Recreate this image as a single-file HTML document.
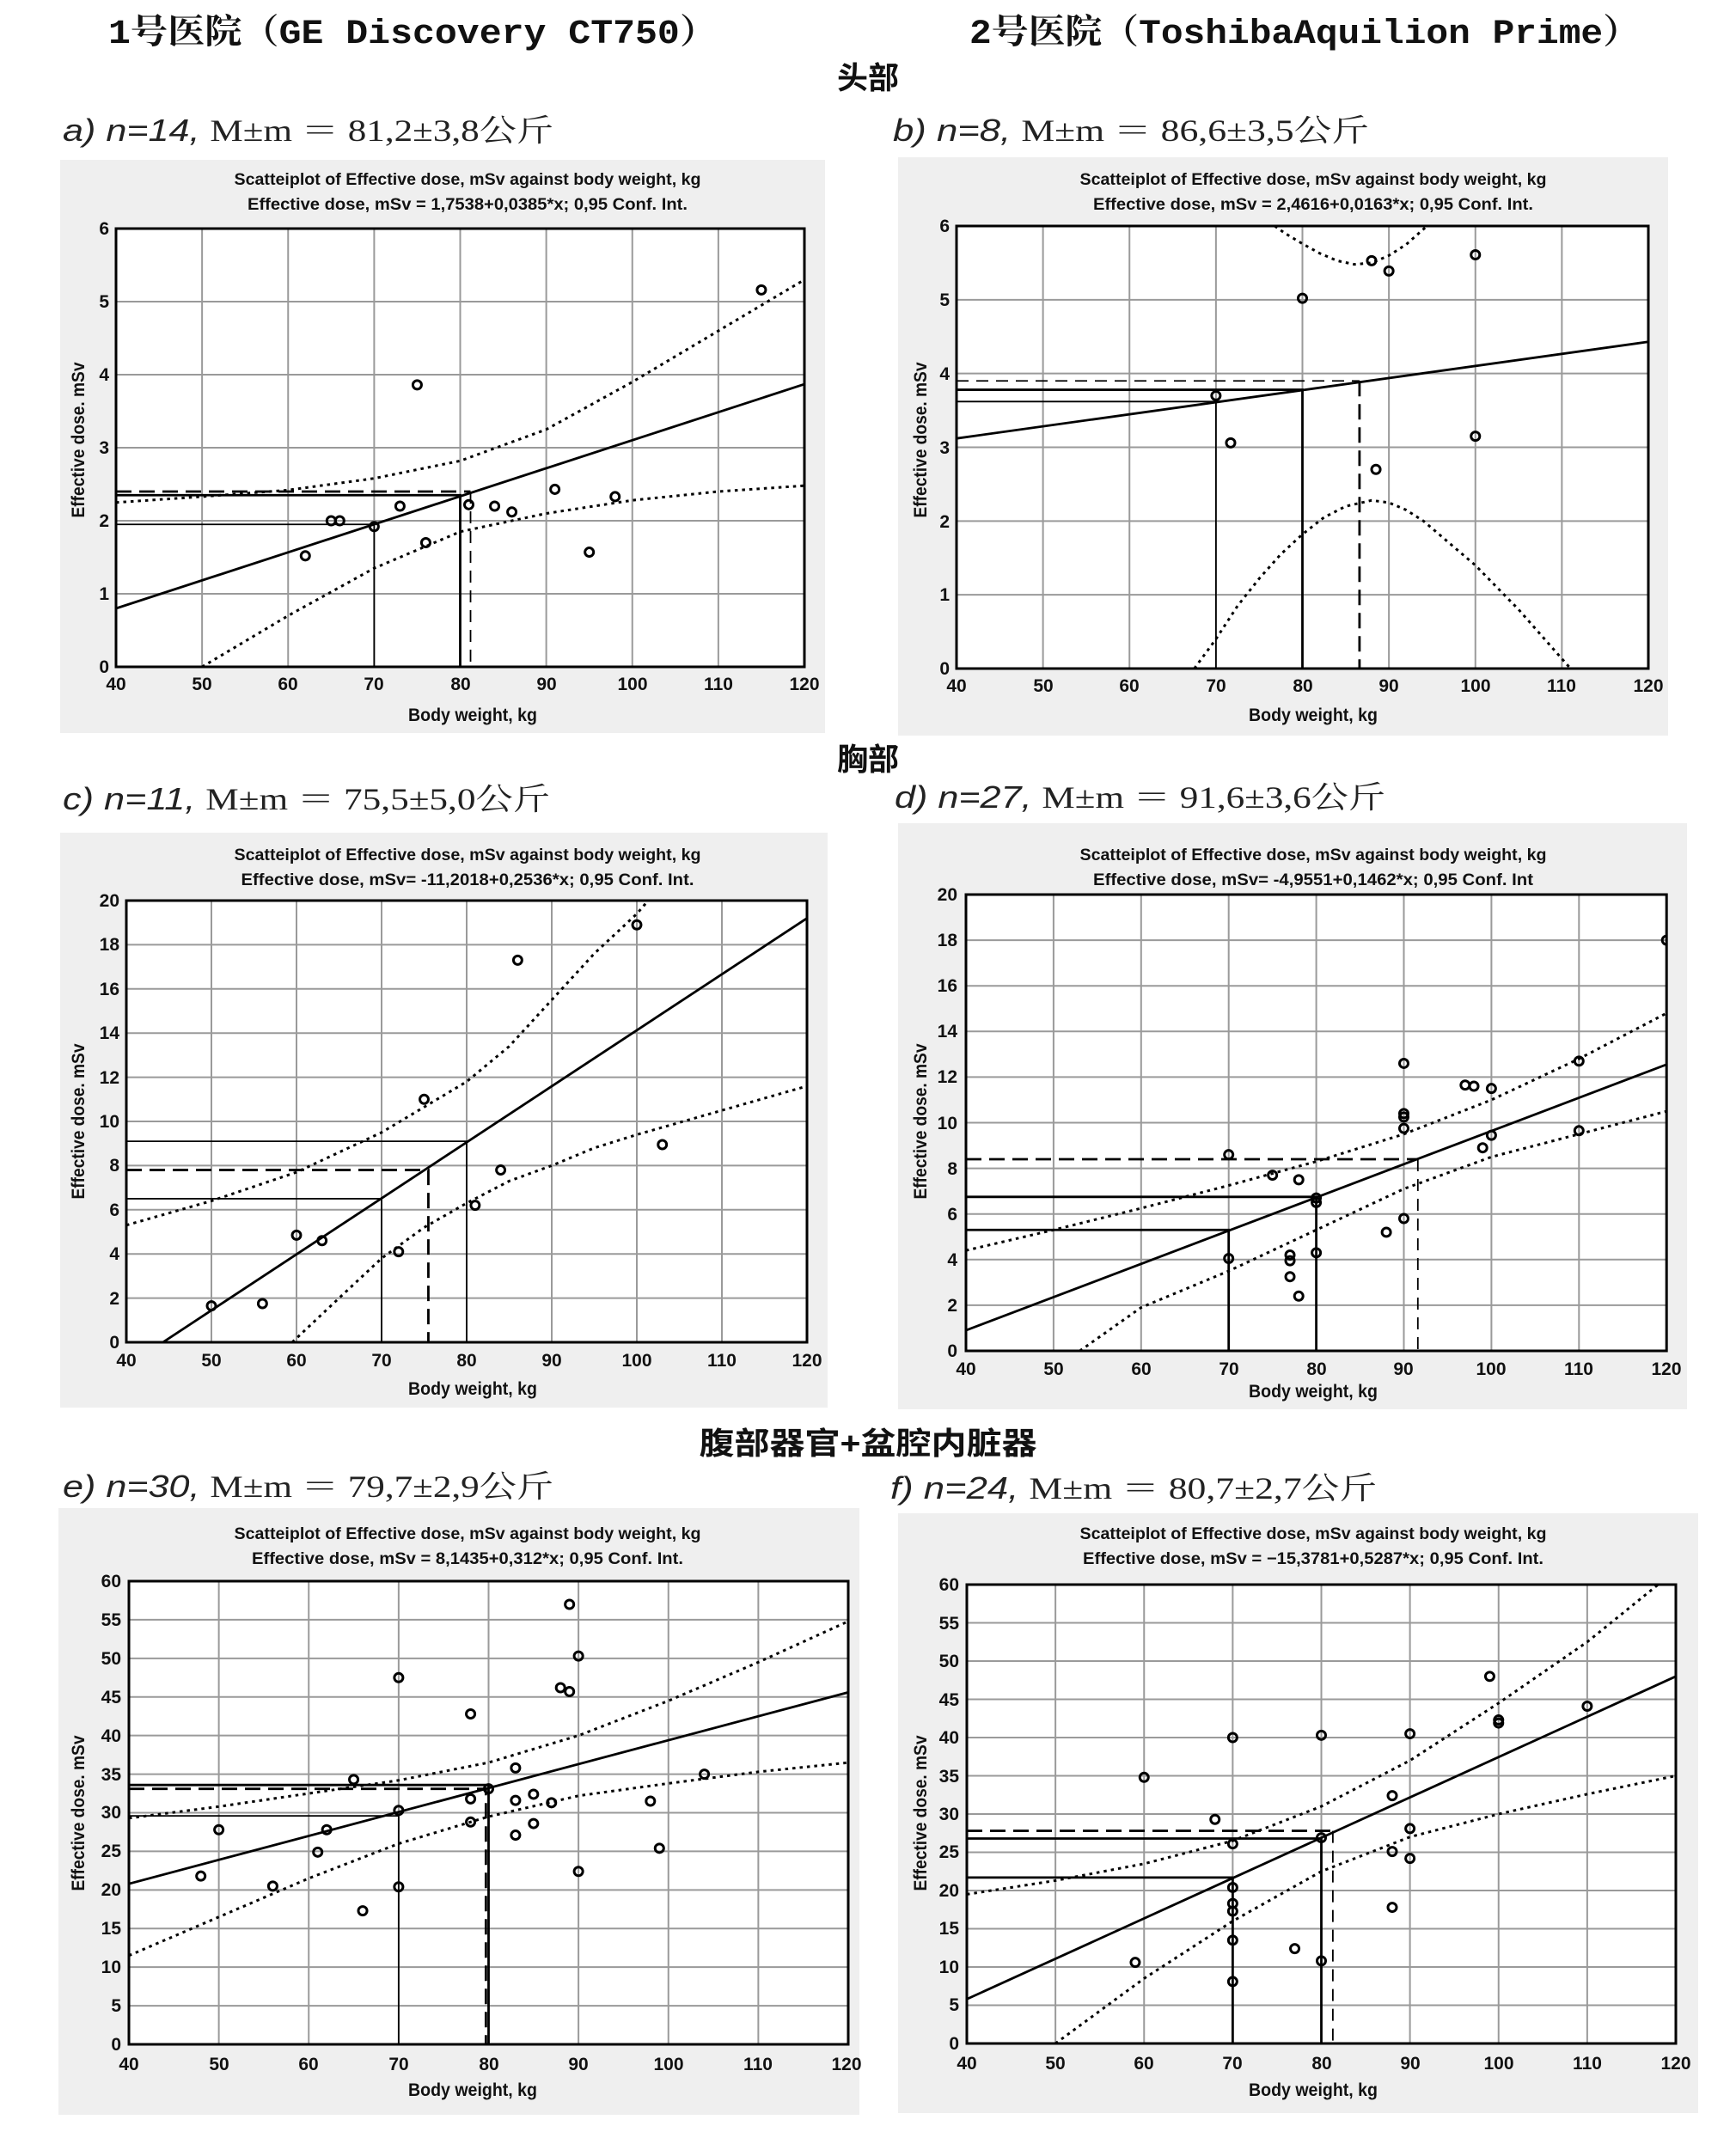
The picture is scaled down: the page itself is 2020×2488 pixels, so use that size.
<!DOCTYPE html>
<html><head><meta charset="utf-8"><style>
html,body{margin:0;padding:0;background:#fff}
svg{display:block}
.p *{vector-effect:non-scaling-stroke;fill:none}
.grid{stroke:#9a9a9a;stroke-width:2}
.frame{stroke:#000;stroke-width:3}
.reg{stroke:#000;stroke-width:2.8}
.band{stroke:#000;stroke-width:3;stroke-dasharray:3.5 5}
.ref{stroke:#000;stroke-width:1.8}
.refb{stroke:#000;stroke-width:2.8}
.dash{stroke:#000;stroke-width:2.8;stroke-dasharray:18 9}
.dasht{stroke:#000;stroke-width:1.8;stroke-dasharray:14 9}
.pt{stroke:#000;stroke-width:3}
.t{font-family:"Liberation Sans",sans-serif;font-weight:bold;fill:#111}
.tt{font-family:"Liberation Sans",sans-serif;font-weight:bold;font-size:19px;fill:#111}
.ax{font-family:"Liberation Sans",sans-serif;font-weight:bold;font-size:21px;fill:#111}
.hd{font-family:"Liberation Mono","Noto Serif CJK SC",monospace;font-weight:bold;font-size:40px;fill:#111}
.sec{font-family:"Liberation Sans","Noto Sans CJK SC",sans-serif;font-weight:bold;font-size:36px;fill:#111}
.lb{font-family:"Liberation Serif","Noto Serif CJK SC",serif;font-size:36px;fill:#222}
.lbi{font-family:"Liberation Sans",sans-serif;font-style:italic}
</style></head><body>
<svg width="2020" height="2488" viewBox="0 0 2020 2488" xmlns="http://www.w3.org/2000/svg">
<defs>
<clipPath id="ca"><rect x="40" y="0" width="80" height="6"/></clipPath>
<clipPath id="cc"><rect x="40" y="0" width="80" height="20"/></clipPath>
<clipPath id="ce"><rect x="40" y="0" width="80" height="60"/></clipPath>
</defs>

<text class="hd" x="126" y="50" textLength="708" lengthAdjust="spacingAndGlyphs">1号医院（GE Discovery CT750）</text>
<text class="hd" x="1128" y="50" textLength="780" lengthAdjust="spacingAndGlyphs">2号医院（ToshibaAquilion Prime）</text>
<text class="sec" x="1010" y="103" text-anchor="middle">头部</text>
<text class="sec" x="1010" y="896" text-anchor="middle">胸部</text>
<text class="sec" x="1010" y="1692" text-anchor="middle" textLength="393" lengthAdjust="spacingAndGlyphs">腹部器官+盆腔内脏器</text>

<text class="lb" x="73" y="164" textLength="571" lengthAdjust="spacingAndGlyphs"><tspan class="lbi">a) n=14, </tspan>Μ±m ＝ 81,2±3,8公斤</text>
<text class="lb" x="1039" y="164" textLength="554" lengthAdjust="spacingAndGlyphs"><tspan class="lbi">b) n=8, </tspan>Μ±m ＝ 86,6±3,5公斤</text>
<text class="lb" x="73" y="942" textLength="567" lengthAdjust="spacingAndGlyphs"><tspan class="lbi">c) n=11, </tspan>Μ±m ＝ 75,5±5,0公斤</text>
<text class="lb" x="1041" y="940" textLength="571" lengthAdjust="spacingAndGlyphs"><tspan class="lbi">d) n=27, </tspan>Μ±m ＝ 91,6±3,6公斤</text>
<text class="lb" x="73" y="1742" textLength="571" lengthAdjust="spacingAndGlyphs"><tspan class="lbi">e) n=30, </tspan>Μ±m ＝ 79,7±2,9公斤</text>
<text class="lb" x="1036" y="1744" textLength="566" lengthAdjust="spacingAndGlyphs"><tspan class="lbi">f) n=24, </tspan>Μ±m ＝ 80,7±2,7公斤</text>

<rect x="70" y="186" width="890" height="667" fill="#efefef"/>
<rect x="1045" y="183" width="896" height="673" fill="#efefef"/>
<rect x="70" y="969" width="893" height="669" fill="#efefef"/>
<rect x="1045" y="958" width="918" height="682" fill="#efefef"/>
<rect x="68" y="1755" width="932" height="706" fill="#efefef"/>
<rect x="1045" y="1761" width="931" height="698" fill="#efefef"/>

<!-- a -->
<rect x="135" y="266" width="801" height="510" fill="#fff"/>
<g class="p" transform="translate(135,776) scale(10.0125,-85) translate(-40,0)">
<path class="grid" d="M50 0V6M60 0V6M70 0V6M80 0V6M90 0V6M100 0V6M110 0V6M40 1H120M40 2H120M40 3H120M40 4H120M40 5H120"/>
<g clip-path="url(#ca)">
<path class="reg" d="M40 0.8L120 3.87"/>
<path class="band" d="M40 2.25L50 2.33L60 2.42L70 2.58L80 2.82L90 3.25L100 3.9L110 4.6L120 5.3"/>
<path class="band" d="M50 0L60 0.7L70 1.35L80 1.85L90 2.1L100 2.28L110 2.4L120 2.48"/>
<path class="ref" d="M40 1.95H70V0"/>
<path class="refb" d="M40 2.35H80V0"/>
<path class="dash" d="M40 2.4H81.2"/>
<path class="dasht" d="M81.2 2.4V0"/>
<g class="pt"><ellipse cx="62" cy="1.52" rx=".5" ry=".059"/><ellipse cx="65" cy="2" rx=".5" ry=".059"/><ellipse cx="66" cy="2" rx=".5" ry=".059"/><ellipse cx="70" cy="1.92" rx=".5" ry=".059"/><ellipse cx="73" cy="2.2" rx=".5" ry=".059"/><ellipse cx="75" cy="3.86" rx=".5" ry=".059"/><ellipse cx="76" cy="1.7" rx=".5" ry=".059"/><ellipse cx="81" cy="2.22" rx=".5" ry=".059"/><ellipse cx="84" cy="2.2" rx=".5" ry=".059"/><ellipse cx="86" cy="2.12" rx=".5" ry=".059"/><ellipse cx="91" cy="2.43" rx=".5" ry=".059"/><ellipse cx="95" cy="1.57" rx=".5" ry=".059"/><ellipse cx="98" cy="2.33" rx=".5" ry=".059"/><ellipse cx="115" cy="5.16" rx=".5" ry=".059"/></g>
</g>
<rect class="frame" x="40" y="0" width="80" height="6"/>
</g>
<g class="t" font-size="21" text-anchor="end"><text x="127" y="783">0</text><text x="127" y="698">1</text><text x="127" y="613">2</text><text x="127" y="528">3</text><text x="127" y="443">4</text><text x="127" y="358">5</text><text x="127" y="273">6</text></g>
<g class="t" font-size="21" text-anchor="middle"><text x="135" y="803">40</text><text x="235" y="803">50</text><text x="335" y="803">60</text><text x="435" y="803">70</text><text x="536" y="803">80</text><text x="636" y="803">90</text><text x="736" y="803">100</text><text x="836" y="803">110</text><text x="936" y="803">120</text></g>
<text class="tt" x="544" y="215" text-anchor="middle" textLength="543" lengthAdjust="spacingAndGlyphs">Scatteiplot of Effective dose, mSv against body weight, kg</text>
<text class="tt" x="544" y="244" text-anchor="middle" textLength="512" lengthAdjust="spacingAndGlyphs">Effective dose, mSv = 1,7538+0,0385*x; 0,95 Conf. Int.</text>
<text class="ax" x="550" y="839" text-anchor="middle" textLength="150" lengthAdjust="spacingAndGlyphs">Body weight, kg</text>
<text class="ax" transform="translate(98,512) rotate(-90)" text-anchor="middle" textLength="181" lengthAdjust="spacingAndGlyphs">Effective dose. mSv</text>

<!-- b -->
<rect x="1113" y="263" width="805" height="515" fill="#fff"/>
<g class="p" transform="translate(1113,778) scale(10.0625,-85.83) translate(-40,0)">
<path class="grid" d="M50 0V6M60 0V6M70 0V6M80 0V6M90 0V6M100 0V6M110 0V6M40 1H120M40 2H120M40 3H120M40 4H120M40 5H120"/>
<g clip-path="url(#ca)">
<path class="reg" d="M40 3.12L120 4.43"/>
<path class="band" d="M76.8 6L78 5.9L80 5.76L82 5.63L84 5.53L86 5.48L88 5.5L90 5.6L92 5.75L94.4 6"/>
<path class="band" d="M67.5 0L70 0.4L72.5 0.85L75 1.22L77.5 1.55L80 1.82L82.5 2.05L85 2.2L88 2.28L90 2.25L92 2.15L94 2.0L96 1.8L98 1.6L100 1.4L102.5 1.1L105 0.8L108 0.4L111 0"/>
<path class="ref" d="M40 3.62H70V0"/>
<path class="refb" d="M40 3.78H80V0"/>
<path class="dasht" d="M40 3.9H86.6"/>
<path class="dash" d="M86.6 3.9V0"/>
<g class="pt"><ellipse cx="70" cy="3.7" rx=".5" ry=".058"/><ellipse cx="71.7" cy="3.06" rx=".5" ry=".058"/><ellipse cx="80" cy="5.02" rx=".5" ry=".058"/><ellipse cx="88" cy="5.53" rx=".5" ry=".058"/><ellipse cx="90" cy="5.39" rx=".5" ry=".058"/><ellipse cx="100" cy="5.61" rx=".5" ry=".058"/><ellipse cx="88.5" cy="2.7" rx=".5" ry=".058"/><ellipse cx="100" cy="3.15" rx=".5" ry=".058"/></g>
</g>
<rect class="frame" x="40" y="0" width="80" height="6"/>
</g>
<g class="t" font-size="21" text-anchor="end"><text x="1105" y="785">0</text><text x="1105" y="699">1</text><text x="1105" y="614">2</text><text x="1105" y="528">3</text><text x="1105" y="442">4</text><text x="1105" y="356">5</text><text x="1105" y="270">6</text></g>
<g class="t" font-size="21" text-anchor="middle"><text x="1113" y="805">40</text><text x="1214" y="805">50</text><text x="1314" y="805">60</text><text x="1415" y="805">70</text><text x="1516" y="805">80</text><text x="1616" y="805">90</text><text x="1717" y="805">100</text><text x="1817" y="805">110</text><text x="1918" y="805">120</text></g>
<text class="tt" x="1528" y="215" text-anchor="middle" textLength="543" lengthAdjust="spacingAndGlyphs">Scatteiplot of Effective dose, mSv against body weight, kg</text>
<text class="tt" x="1528" y="244" text-anchor="middle" textLength="512" lengthAdjust="spacingAndGlyphs">Effective dose, mSv = 2,4616+0,0163*x; 0,95 Conf. Int.</text>
<text class="ax" x="1528" y="839" text-anchor="middle" textLength="150" lengthAdjust="spacingAndGlyphs">Body weight, kg</text>
<text class="ax" transform="translate(1078,512) rotate(-90)" text-anchor="middle" textLength="181" lengthAdjust="spacingAndGlyphs">Effective dose. mSv</text>

<!-- c -->
<rect x="147" y="1048" width="792" height="514" fill="#fff"/>
<g class="p" transform="translate(147,1562) scale(9.9,-25.7) translate(-40,0)">
<path class="grid" d="M50 0V20M60 0V20M70 0V20M80 0V20M90 0V20M100 0V20M110 0V20M40 2H120M40 4H120M40 6H120M40 8H120M40 10H120M40 12H120M40 14H120M40 16H120M40 18H120"/>
<g clip-path="url(#cc)">
<path class="reg" d="M44.3 0L120 19.2"/>
<path class="band" d="M40 5.3L50 6.4L60 7.7L70 9.5L80 11.8L85 13.4L90 15.5L95 17.6L100 19.4L102 20.3"/>
<path class="band" d="M59.5 0L65 2L70 3.8L75 5.2L80 6.3L85 7.3L90 8.0L95 8.8L100 9.4L110 10.5L120 11.6"/>
<path class="ref" d="M40 6.5H70V0"/>
<path class="ref" d="M40 9.1H80V0"/>
<path class="dash" d="M40 7.8H75.5V0"/>
<g class="pt"><ellipse cx="50" cy="1.65" rx=".5" ry=".195"/><ellipse cx="56" cy="1.75" rx=".5" ry=".195"/><ellipse cx="60" cy="4.85" rx=".5" ry=".195"/><ellipse cx="63" cy="4.6" rx=".5" ry=".195"/><ellipse cx="72" cy="4.1" rx=".5" ry=".195"/><ellipse cx="75" cy="11" rx=".5" ry=".195"/><ellipse cx="81" cy="6.2" rx=".5" ry=".195"/><ellipse cx="84" cy="7.8" rx=".5" ry=".195"/><ellipse cx="86" cy="17.3" rx=".5" ry=".195"/><ellipse cx="100" cy="18.9" rx=".5" ry=".195"/><ellipse cx="103" cy="8.95" rx=".5" ry=".195"/></g>
</g>
<rect class="frame" x="40" y="0" width="80" height="20"/>
</g>
<g class="t" font-size="21" text-anchor="end"><text x="139" y="1569">0</text><text x="139" y="1518">2</text><text x="139" y="1466">4</text><text x="139" y="1415">6</text><text x="139" y="1363">8</text><text x="139" y="1312">10</text><text x="139" y="1261">12</text><text x="139" y="1209">14</text><text x="139" y="1158">16</text><text x="139" y="1106">18</text><text x="139" y="1055">20</text></g>
<g class="t" font-size="21" text-anchor="middle"><text x="147" y="1590">40</text><text x="246" y="1590">50</text><text x="345" y="1590">60</text><text x="444" y="1590">70</text><text x="543" y="1590">80</text><text x="642" y="1590">90</text><text x="741" y="1590">100</text><text x="840" y="1590">110</text><text x="939" y="1590">120</text></g>
<text class="tt" x="544" y="1001" text-anchor="middle" textLength="543" lengthAdjust="spacingAndGlyphs">Scatteiplot of Effective dose, mSv against body weight, kg</text>
<text class="tt" x="544" y="1030" text-anchor="middle" textLength="527" lengthAdjust="spacingAndGlyphs">Effective dose, mSv= -11,2018+0,2536*x; 0,95 Conf. Int.</text>
<text class="ax" x="550" y="1623" text-anchor="middle" textLength="150" lengthAdjust="spacingAndGlyphs">Body weight, kg</text>
<text class="ax" transform="translate(98,1305) rotate(-90)" text-anchor="middle" textLength="181" lengthAdjust="spacingAndGlyphs">Effective dose. mSv</text>

<!-- d -->
<rect x="1124" y="1041" width="815" height="531" fill="#fff"/>
<g class="p" transform="translate(1124,1572) scale(10.19,-26.55) translate(-40,0)">
<path class="grid" d="M50 0V20M60 0V20M70 0V20M80 0V20M90 0V20M100 0V20M110 0V20M40 2H120M40 4H120M40 6H120M40 8H120M40 10H120M40 12H120M40 14H120M40 16H120M40 18H120"/>
<g clip-path="url(#cc)">
<path class="reg" d="M40 0.9L120 12.55"/>
<path class="band" d="M40 4.4L50 5.3L60 6.25L70 7.25L80 8.3L90 9.5L100 11.0L110 12.8L120 14.8"/>
<path class="band" d="M53 0L60 1.9L70 3.5L80 5.3L90 7.1L100 8.5L110 9.5L120 10.5"/>
<path class="refb" d="M40 5.3H70V0"/>
<path class="refb" d="M40 6.75H80V0"/>
<path class="dash" d="M40 8.4H91.6"/>
<path class="dasht" d="M91.6 8.4V0"/>
<g class="pt"><ellipse cx="70" cy="8.6" rx=".49" ry=".188"/><ellipse cx="70" cy="4.05" rx=".49" ry=".188"/><ellipse cx="75" cy="7.7" rx=".49" ry=".188"/><ellipse cx="77" cy="4.2" rx=".49" ry=".188"/><ellipse cx="77" cy="3.95" rx=".49" ry=".188"/><ellipse cx="77" cy="3.25" rx=".49" ry=".188"/><ellipse cx="78" cy="7.5" rx=".49" ry=".188"/><ellipse cx="78" cy="2.4" rx=".49" ry=".188"/><ellipse cx="80" cy="6.7" rx=".49" ry=".188"/><ellipse cx="80" cy="6.5" rx=".49" ry=".188"/><ellipse cx="80" cy="4.3" rx=".49" ry=".188"/><ellipse cx="88" cy="5.2" rx=".49" ry=".188"/><ellipse cx="90" cy="12.6" rx=".49" ry=".188"/><ellipse cx="90" cy="10.4" rx=".49" ry=".188"/><ellipse cx="90" cy="10.25" rx=".49" ry=".188"/><ellipse cx="90" cy="9.75" rx=".49" ry=".188"/><ellipse cx="90" cy="5.8" rx=".49" ry=".188"/><ellipse cx="97" cy="11.65" rx=".49" ry=".188"/><ellipse cx="98" cy="11.6" rx=".49" ry=".188"/><ellipse cx="99" cy="8.9" rx=".49" ry=".188"/><ellipse cx="100" cy="11.5" rx=".49" ry=".188"/><ellipse cx="100" cy="9.45" rx=".49" ry=".188"/><ellipse cx="110" cy="12.7" rx=".49" ry=".188"/><ellipse cx="110" cy="9.65" rx=".49" ry=".188"/><ellipse cx="120" cy="18" rx=".49" ry=".188"/></g>
</g>
<rect class="frame" x="40" y="0" width="80" height="20"/>
</g>
<g class="t" font-size="21" text-anchor="end"><text x="1114" y="1579">0</text><text x="1114" y="1526">2</text><text x="1114" y="1473">4</text><text x="1114" y="1420">6</text><text x="1114" y="1367">8</text><text x="1114" y="1314">10</text><text x="1114" y="1260">12</text><text x="1114" y="1207">14</text><text x="1114" y="1154">16</text><text x="1114" y="1101">18</text><text x="1114" y="1048">20</text></g>
<g class="t" font-size="21" text-anchor="middle"><text x="1124" y="1600">40</text><text x="1226" y="1600">50</text><text x="1328" y="1600">60</text><text x="1430" y="1600">70</text><text x="1532" y="1600">80</text><text x="1633" y="1600">90</text><text x="1735" y="1600">100</text><text x="1837" y="1600">110</text><text x="1939" y="1600">120</text></g>
<text class="tt" x="1528" y="1001" text-anchor="middle" textLength="543" lengthAdjust="spacingAndGlyphs">Scatteiplot of Effective dose, mSv against body weight, kg</text>
<text class="tt" x="1528" y="1030" text-anchor="middle" textLength="512" lengthAdjust="spacingAndGlyphs">Effective dose, mSv= -4,9551+0,1462*x; 0,95 Conf. Int</text>
<text class="ax" x="1528" y="1626" text-anchor="middle" textLength="150" lengthAdjust="spacingAndGlyphs">Body weight, kg</text>
<text class="ax" transform="translate(1078,1305) rotate(-90)" text-anchor="middle" textLength="181" lengthAdjust="spacingAndGlyphs">Effective dose. mSv</text>

<!-- e -->
<rect x="150" y="1840" width="837" height="539" fill="#fff"/>
<g class="p" transform="translate(150,2379) scale(10.4625,-8.983) translate(-40,0)">
<path class="grid" d="M50 0V60M60 0V60M70 0V60M80 0V60M90 0V60M100 0V60M110 0V60M40 5H120M40 10H120M40 15H120M40 20H120M40 25H120M40 30H120M40 35H120M40 40H120M40 45H120M40 50H120M40 55H120"/>
<g clip-path="url(#ce)">
<path class="reg" d="M40 20.8L120 45.6"/>
<path class="band" d="M40 29.3L50 30.8L60 32.5L70 34.2L80 36.5L90 40L100 44.5L110 49.5L120 54.8"/>
<path class="band" d="M40 11.5L50 16.5L60 21.5L70 26L80 29.5L90 32.2L100 33.8L110 35.3L120 36.5"/>
<path class="ref" d="M40 29.6H70V0"/>
<path class="refb" d="M40 33.6H80V0"/>
<path class="dash" d="M40 33.1H79.7V0"/>
<g class="pt"><ellipse cx="48" cy="21.8" rx=".48" ry=".557"/><ellipse cx="50" cy="27.8" rx=".48" ry=".557"/><ellipse cx="56" cy="20.5" rx=".48" ry=".557"/><ellipse cx="61" cy="24.9" rx=".48" ry=".557"/><ellipse cx="62" cy="27.8" rx=".48" ry=".557"/><ellipse cx="65" cy="34.3" rx=".48" ry=".557"/><ellipse cx="66" cy="17.3" rx=".48" ry=".557"/><ellipse cx="70" cy="47.5" rx=".48" ry=".557"/><ellipse cx="70" cy="30.3" rx=".48" ry=".557"/><ellipse cx="70" cy="20.4" rx=".48" ry=".557"/><ellipse cx="78" cy="42.8" rx=".48" ry=".557"/><ellipse cx="78" cy="31.8" rx=".48" ry=".557"/><ellipse cx="78" cy="28.8" rx=".48" ry=".557"/><ellipse cx="80" cy="33.1" rx=".48" ry=".557"/><ellipse cx="83" cy="35.8" rx=".48" ry=".557"/><ellipse cx="83" cy="31.6" rx=".48" ry=".557"/><ellipse cx="83" cy="27.1" rx=".48" ry=".557"/><ellipse cx="85" cy="32.4" rx=".48" ry=".557"/><ellipse cx="85" cy="28.6" rx=".48" ry=".557"/><ellipse cx="87" cy="31.3" rx=".48" ry=".557"/><ellipse cx="88" cy="46.2" rx=".48" ry=".557"/><ellipse cx="89" cy="45.7" rx=".48" ry=".557"/><ellipse cx="89" cy="57" rx=".48" ry=".557"/><ellipse cx="90" cy="50.3" rx=".48" ry=".557"/><ellipse cx="90" cy="22.4" rx=".48" ry=".557"/><ellipse cx="98" cy="31.5" rx=".48" ry=".557"/><ellipse cx="99" cy="25.4" rx=".48" ry=".557"/><ellipse cx="104" cy="35" rx=".48" ry=".557"/></g>
</g>
<rect class="frame" x="40" y="0" width="80" height="60"/>
</g>
<g class="t" font-size="21" text-anchor="end"><text x="141" y="2386">0</text><text x="141" y="2341">5</text><text x="141" y="2296">10</text><text x="141" y="2251">15</text><text x="141" y="2206">20</text><text x="141" y="2161">25</text><text x="141" y="2116">30</text><text x="141" y="2072">35</text><text x="141" y="2027">40</text><text x="141" y="1982">45</text><text x="141" y="1937">50</text><text x="141" y="1892">55</text><text x="141" y="1847">60</text></g>
<g class="t" font-size="21" text-anchor="middle"><text x="150" y="2409">40</text><text x="255" y="2409">50</text><text x="359" y="2409">60</text><text x="464" y="2409">70</text><text x="569" y="2409">80</text><text x="673" y="2409">90</text><text x="778" y="2409">100</text><text x="882" y="2409">110</text><text x="985" y="2409">120</text></g>
<text class="tt" x="544" y="1791" text-anchor="middle" textLength="543" lengthAdjust="spacingAndGlyphs">Scatteiplot of Effective dose, mSv against body weight, kg</text>
<text class="tt" x="544" y="1820" text-anchor="middle" textLength="502" lengthAdjust="spacingAndGlyphs">Effective dose, mSv = 8,1435+0,312*x; 0,95 Conf. Int.</text>
<text class="ax" x="550" y="2439" text-anchor="middle" textLength="150" lengthAdjust="spacingAndGlyphs">Body weight, kg</text>
<text class="ax" transform="translate(98,2110) rotate(-90)" text-anchor="middle" textLength="181" lengthAdjust="spacingAndGlyphs">Effective dose. mSv</text>

<!-- f -->
<rect x="1125" y="1844" width="825" height="534" fill="#fff"/>
<g class="p" transform="translate(1125,2378) scale(10.3125,-8.9) translate(-40,0)">
<path class="grid" d="M50 0V60M60 0V60M70 0V60M80 0V60M90 0V60M100 0V60M110 0V60M40 5H120M40 10H120M40 15H120M40 20H120M40 25H120M40 30H120M40 35H120M40 40H120M40 45H120M40 50H120M40 55H120"/>
<g clip-path="url(#ce)">
<path class="reg" d="M40 5.8L120 48"/>
<path class="band" d="M40 19.5L50 21.3L60 23.5L70 26.5L80 31L90 37L100 44.5L110 52.5L118 60"/>
<path class="band" d="M50 0L60 8.5L70 16L80 22.5L90 27L100 30L110 32.6L120 35"/>
<path class="refb" d="M40 21.7H70V0"/>
<path class="refb" d="M40 26.8H80V0"/>
<path class="dash" d="M40 27.8H81.3"/>
<path class="dasht" d="M81.3 27.8V0"/>
<g class="pt"><ellipse cx="59" cy="10.6" rx=".485" ry=".56"/><ellipse cx="60" cy="34.8" rx=".485" ry=".56"/><ellipse cx="68" cy="29.3" rx=".485" ry=".56"/><ellipse cx="70" cy="40" rx=".485" ry=".56"/><ellipse cx="70" cy="26.1" rx=".485" ry=".56"/><ellipse cx="70" cy="20.4" rx=".485" ry=".56"/><ellipse cx="70" cy="18.3" rx=".485" ry=".56"/><ellipse cx="70" cy="17.3" rx=".485" ry=".56"/><ellipse cx="70" cy="13.5" rx=".485" ry=".56"/><ellipse cx="70" cy="8.1" rx=".485" ry=".56"/><ellipse cx="77" cy="12.4" rx=".485" ry=".56"/><ellipse cx="80" cy="40.3" rx=".485" ry=".56"/><ellipse cx="80" cy="26.9" rx=".485" ry=".56"/><ellipse cx="80" cy="10.8" rx=".485" ry=".56"/><ellipse cx="88" cy="32.4" rx=".485" ry=".56"/><ellipse cx="88" cy="25.1" rx=".485" ry=".56"/><ellipse cx="88" cy="17.8" rx=".485" ry=".56"/><ellipse cx="90" cy="40.5" rx=".485" ry=".56"/><ellipse cx="90" cy="28.1" rx=".485" ry=".56"/><ellipse cx="90" cy="24.2" rx=".485" ry=".56"/><ellipse cx="99" cy="48" rx=".485" ry=".56"/><ellipse cx="100" cy="42.3" rx=".485" ry=".56"/><ellipse cx="100" cy="41.9" rx=".485" ry=".56"/><ellipse cx="110" cy="44.1" rx=".485" ry=".56"/></g>
</g>
<rect class="frame" x="40" y="0" width="80" height="60"/>
</g>
<g class="t" font-size="21" text-anchor="end"><text x="1116" y="2385">0</text><text x="1116" y="2340">5</text><text x="1116" y="2296">10</text><text x="1116" y="2251">15</text><text x="1116" y="2207">20</text><text x="1116" y="2162">25</text><text x="1116" y="2118">30</text><text x="1116" y="2074">35</text><text x="1116" y="2029">40</text><text x="1116" y="1985">45</text><text x="1116" y="1940">50</text><text x="1116" y="1896">55</text><text x="1116" y="1851">60</text></g>
<g class="t" font-size="21" text-anchor="middle"><text x="1125" y="2408">40</text><text x="1228" y="2408">50</text><text x="1331" y="2408">60</text><text x="1434" y="2408">70</text><text x="1538" y="2408">80</text><text x="1641" y="2408">90</text><text x="1744" y="2408">100</text><text x="1847" y="2408">110</text><text x="1950" y="2408">120</text></g>
<text class="tt" x="1528" y="1791" text-anchor="middle" textLength="543" lengthAdjust="spacingAndGlyphs">Scatteiplot of Effective dose, mSv against body weight, kg</text>
<text class="tt" x="1528" y="1820" text-anchor="middle" textLength="536" lengthAdjust="spacingAndGlyphs">Effective dose, mSv = −15,3781+0,5287*x; 0,95 Conf. Int.</text>
<text class="ax" x="1528" y="2439" text-anchor="middle" textLength="150" lengthAdjust="spacingAndGlyphs">Body weight, kg</text>
<text class="ax" transform="translate(1078,2110) rotate(-90)" text-anchor="middle" textLength="181" lengthAdjust="spacingAndGlyphs">Effective dose. mSv</text>
</svg>
</body></html>
